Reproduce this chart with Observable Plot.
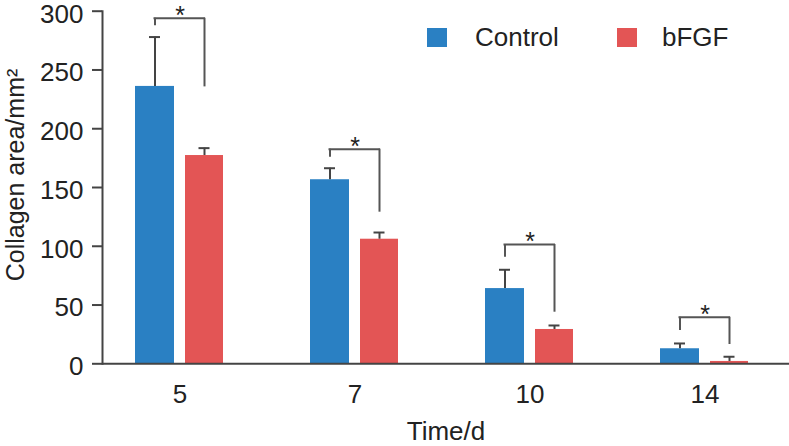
<!DOCTYPE html>
<html><head><meta charset="utf-8">
<script src="https://cdn.jsdelivr.net/npm/d3@7"></script>
<script src="https://cdn.jsdelivr.net/npm/@observablehq/plot@0.6"></script>
<style>
body{margin:0;background:#fff;font-family:"Liberation Sans",Arial,sans-serif;}
#wrap{position:relative;width:789px;height:446px;overflow:hidden;}
#wrap svg{position:absolute;left:0;top:0;}
.ytitle{position:absolute;left:-135.5px;top:162px;width:300px;height:26px;line-height:26px;text-align:center;font-size:25px;color:#222;transform:rotate(-90deg);transform-origin:center;white-space:nowrap;}
.legend{position:absolute;top:24px;left:0;font-size:26px;color:#222;}
.legend .item{position:absolute;top:0;height:27px;line-height:27px;white-space:nowrap;}
.legend .sw{position:absolute;top:4px;width:19.5px;height:19px;}
.legend .lb{position:absolute;top:0;}
</style></head><body><div id="wrap"></div>
<script>
const times = ["5", "7", "10", "14"];
const controlMean = [236, 156.6, 64, 12.8];
const controlSD = [42, 9.8, 16, 4.5];
const bfgfMean = [177.2, 106, 29.2, 2];
const bfgfSD = [6.3, 5.7, 3.4, 4];
const bracketTop = [294, 182.6, 101.5, 39.6];
const bracketLeftEnd = [287.6, 175.8, 90.7, 28.3];
const bracketRightEnd = [235.6, 129, 43.9, 16.4];
const yTicks = [0, 50, 100, 150, 200, 250, 300];
const seriesNames = ["Control", "bFGF"];
const seriesColors = ["#2a80c3", "#e35555"];

const rows = times.map((t, i) => ({
  time: t,
  control: controlMean[i], controlErr: controlMean[i] + controlSD[i],
  bfgf: bfgfMean[i], bfgfErr: bfgfMean[i] + bfgfSD[i],
  top: bracketTop[i], left: bracketLeftEnd[i], right: bracketRightEnd[i]
}));

const ink = "#444";
const plot = Plot.plot({
  width: 789, height: 446,
  marginLeft: 102, marginRight: 0, marginTop: 10.7, marginBottom: 82.7,
  style: {fontFamily: '"Liberation Sans", Arial, sans-serif', fontSize: "26px", color: "#222", background: "transparent", overflow: "visible"},
  x: {domain: times, range: [92, 792], padding: 0},
  y: {domain: [0, 300]},
  marks: [
    Plot.barY(rows, {x: "time", y: "control", fill: seriesColors[0], insetLeft: 43, insetRight: 93}),
    Plot.barY(rows, {x: "time", y: "bfgf", fill: seriesColors[1], insetLeft: 93, insetRight: 44}),
    Plot.ruleX(rows, {x: "time", y1: "control", y2: "controlErr", dx: -25, stroke: ink, strokeWidth: 2}),
    Plot.ruleX(rows, {x: "time", y1: "bfgf", y2: "bfgfErr", dx: 24.5, stroke: ink, strokeWidth: 2}),
    Plot.tickY(rows, {x: "time", y: "controlErr", insetLeft: 57, insetRight: 107, stroke: ink, strokeWidth: 2}),
    Plot.tickY(rows, {x: "time", y: "bfgfErr", insetLeft: 106.5, insetRight: 57.5, stroke: ink, strokeWidth: 2}),
    Plot.ruleX(rows, {x: "time", y1: "left", y2: "top", dx: -25, stroke: "#555", strokeWidth: 2}),
    Plot.ruleX(rows, {x: "time", y1: "right", y2: "top", dx: 24.5, stroke: "#555", strokeWidth: 2}),
    Plot.tickY(rows, {x: "time", y: "top", insetLeft: 61.5, insetRight: 62, stroke: "#555", strokeWidth: 2}),
    Plot.text(rows, {x: "time", y: "top", text: () => "*", dy: -2.5, fontSize: 25, fill: "#222"}),
    Plot.ruleY([0], {stroke: ink, strokeWidth: 2}),
    Plot.frame({anchor: "left", stroke: ink, strokeWidth: 2}),
    Plot.axisY({ticks: yTicks, tickSize: 10, fill: "none", label: null, stroke: ink, strokeWidth: 2}),
    Plot.axisY({ticks: yTicks, tickSize: 0, tickPadding: 19, dy: 3, label: null, fontSize: 26}),
    Plot.axisX({tickSize: 0, tickPadding: 21, label: "Time/d", labelAnchor: "center", labelOffset: 76, fontSize: 26})
  ]
});

const wrap = document.getElementById("wrap");
wrap.appendChild(plot);

const yt = document.createElement("div");
yt.className = "ytitle";
yt.textContent = "Collagen area/mm²";
wrap.appendChild(yt);

const legend = document.createElement("div");
legend.className = "legend";
const legendPos = [{sw: 427, lb: 475}, {sw: 617, lb: 662}];
seriesNames.forEach((name, i) => {
  const sw = document.createElement("div");
  sw.className = "sw";
  sw.style.left = legendPos[i].sw + "px";
  sw.style.background = seriesColors[i];
  const lb = document.createElement("div");
  lb.className = "lb item";
  lb.style.left = legendPos[i].lb + "px";
  lb.textContent = name;
  legend.appendChild(sw);
  legend.appendChild(lb);
});
wrap.appendChild(legend);
</script></body></html>
